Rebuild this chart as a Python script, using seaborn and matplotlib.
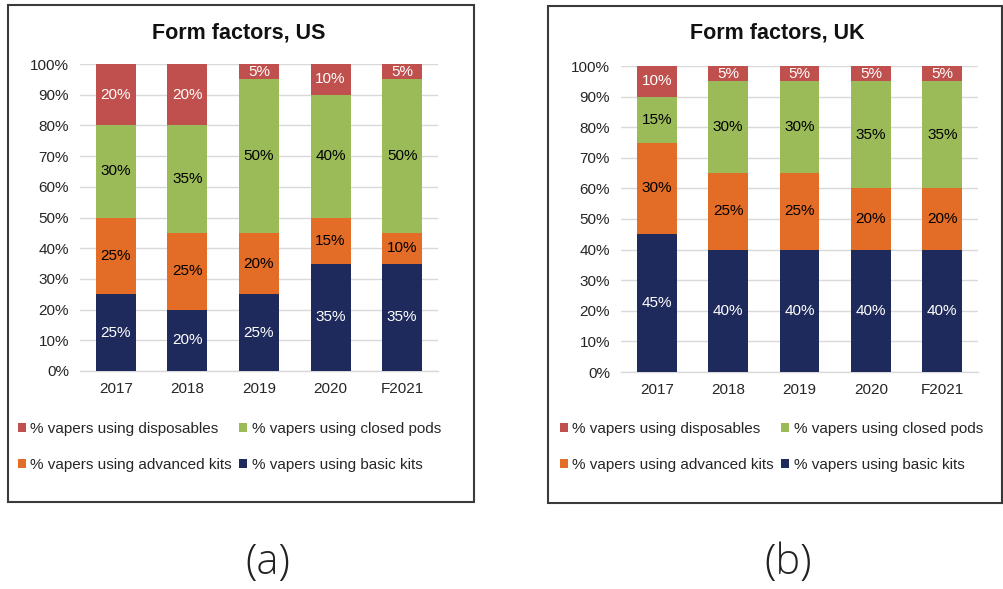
import matplotlib
matplotlib.use("Agg")
import matplotlib.pyplot as plt
from matplotlib.patches import Patch, Rectangle
import numpy as np
import pandas as pd
import seaborn as sns

years = ["2017", "2018", "2019", "2020", "F2021"]
series = ["% vapers using basic kits", "% vapers using advanced kits",
          "% vapers using closed pods", "% vapers using disposables"]

us_basic = [25, 20, 25, 35, 35]
us_advanced = [25, 25, 20, 15, 10]
us_pods = [30, 35, 50, 40, 50]
us_disposables = [20, 20, 5, 10, 5]

uk_basic = [45, 40, 40, 40, 40]
uk_advanced = [30, 25, 25, 20, 20]
uk_pods = [15, 30, 30, 35, 35]
uk_disposables = [10, 5, 5, 5, 5]

titles = ["Form factors, US", "Form factors, UK"]
panel_labels = ["(a)", "(b)"]

colors = {"% vapers using basic kits": "#1F2A5C",
          "% vapers using advanced kits": "#E36C26",
          "% vapers using closed pods": "#9BBB59",
          "% vapers using disposables": "#C0504D"}
label_colors = {"% vapers using basic kits": "white",
                "% vapers using advanced kits": "black",
                "% vapers using closed pods": "black",
                "% vapers using disposables": "white"}

sns.set_theme(style="white")
plt.rcParams["font.family"] = ["Liberation Sans", "DejaVu Sans"]

W, H = 1004, 589
fig = plt.figure(figsize=(W / 100, H / 100), dpi=100)


def fx(px):
    return px / W


def fy(py):
    return 1 - py / H


panels = [
    dict(data=[us_basic, us_advanced, us_pods, us_disposables],
         ax=(80, 64, 438, 371), box=(8, 5, 474, 502), title_x=239,
         legend_x=18, label_x=268),
    dict(data=[uk_basic, uk_advanced, uk_pods, uk_disposables],
         ax=(621, 66, 978, 372), box=(548, 6, 1002, 503), title_x=777,
         legend_x=560, label_x=788),
]

for i, p in enumerate(panels):
    l, t, r, b = p["ax"]
    ax = fig.add_axes([fx(l), fy(b), fx(r - l), (b - t) / H])
    df = pd.DataFrame({"year": years})
    for name, vals in zip(series, p["data"]):
        df[name] = vals
    cum = df[series].cumsum(axis=1)
    # draw from top of stack downwards so lower segments overlay
    for name in reversed(series):
        sns.barplot(x=df["year"], y=cum[name], color=colors[name], width=0.56,
                    saturation=1, linewidth=0, ax=ax, zorder=3)
    # value labels
    for j in range(len(years)):
        for name in series:
            v = df[name][j]
            mid = cum[name][j] - v / 2
            ax.text(j, mid, f"{v}%", ha="center", va="center", fontsize=11,
                    color=label_colors[name], zorder=4)
    ax.set_ylim(0, 100)
    ax.set_xlim(-0.5, 4.5)
    ax.set_yticks(np.arange(0, 101, 10))
    ax.set_yticklabels([f"{v}%" for v in range(0, 101, 10)])
    ax.set_xlabel("")
    ax.set_ylabel("")
    ax.grid(axis="y", color="#D9D9D9", linewidth=1, zorder=0)
    ax.set_axisbelow(True)
    for s in ["top", "right", "left"]:
        ax.spines[s].set_visible(False)
    ax.spines["bottom"].set_color("#D9D9D9")
    ax.spines["bottom"].set_linewidth(1)
    ax.tick_params(axis="both", length=0, labelsize=11, colors="#262626")
    ax.tick_params(axis="y", pad=8)
    ax.tick_params(axis="x", pad=8)

    bx0, by0, bx1, by1 = p["box"]
    fig.patches.append(Rectangle((fx(bx0), fy(by1)), fx(bx1 - bx0), (by1 - by0) / H,
                                 transform=fig.transFigure, fill=False,
                                 edgecolor="#3A3A3A", linewidth=1.5))
    fig.text(fx(p["title_x"]), fy(33), titles[i], ha="center", va="center",
             fontsize=15.5, fontweight="bold", color="#111111")

    order = ["% vapers using disposables", "% vapers using advanced kits",
             "% vapers using closed pods", "% vapers using basic kits"]
    handles = [Patch(facecolor=colors[n], edgecolor="none") for n in order]
    fig.legend(handles, order, loc="upper left",
               bbox_to_anchor=(fx(p["legend_x"]), fy(422)), ncol=2,
               frameon=False, fontsize=11, handlelength=0.5, handleheight=0.5,
               handletextpad=0.3, columnspacing=0.5, labelspacing=1.42,
               borderaxespad=0, borderpad=0, labelcolor="#262626")

    fig.text(fx(p["label_x"]), fy(563), panel_labels[i], ha="center",
             va="center", fontsize=30, family=["Open Sans", "DejaVu Sans"],
             fontweight="light", color="#222222")

fig.savefig("out.png", dpi=100)
